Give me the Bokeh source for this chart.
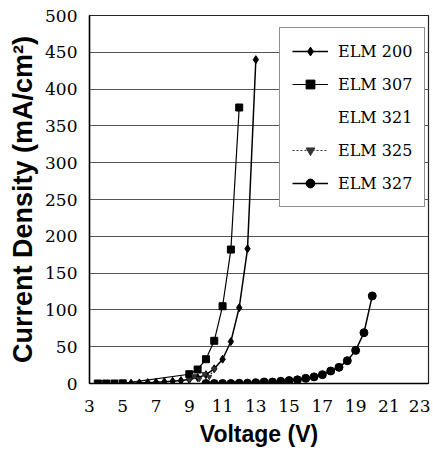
from bokeh.plotting import figure
from bokeh.models import Legend, LegendItem, FixedTicker, Range1d
from bokeh.embed import file_html
from bokeh.resources import INLINE

# ---- data ----
elm200_x = [5.5, 6, 6.5, 7, 7.5, 8, 8.5, 9, 9.5, 10, 10.5, 11, 11.5, 12, 12.5, 13]
elm200_y = [0.5, 0.8, 1.2, 1.7, 2.3, 3, 4, 5.5, 8, 12, 20, 33, 57, 103, 183, 440]

elm307_x = [3.5, 4, 4.5, 5, 9, 9.5, 10, 10.5, 11, 11.5, 12]
elm307_y = [0, 0, 0, 0.2, 12.6, 19, 33, 58, 105, 182, 375]

elm321_x = []
elm321_y = []

elm325_x = [9.0, 9.3, 9.6, 9.9, 10.2, 10.5]
elm325_y = [5, 10, 6, 13, 9, 20]

elm327_x = [10, 10.5, 11, 11.5, 12, 12.5, 13, 13.5, 14, 14.5, 15, 15.5, 16,
            16.5, 17, 17.5, 18, 18.5, 19, 19.5, 20]
elm327_y = [0, 0, 0, 0, 0.3, 0.5, 1, 2, 2, 3, 4, 5, 7,
            9, 12, 17, 22, 31, 45, 69, 119]

x_ticks = [3, 5, 7, 9, 11, 13, 15, 17, 19, 21, 23]
y_ticks = [0, 50, 100, 150, 200, 250, 300, 350, 400, 450, 500]

p = figure(width=430, height=450, output_backend="svg", toolbar_location=None,
           x_range=Range1d(3, 23.38), y_range=Range1d(0, 500),
           min_border_left=89, min_border_right=2, min_border_top=15,
           min_border_bottom=67)

p.background_fill_color = "white"
p.outline_line_color = "#222222"
p.outline_line_width = 1.2

# axes
for ax in (p.xaxis[0], p.yaxis[0]):
    ax.axis_line_color = "black"
    ax.axis_line_width = 1.5
    ax.major_tick_line_color = None
    ax.minor_tick_line_color = None
    ax.major_tick_out = 0
    ax.major_tick_in = 0
    ax.minor_tick_out = 0
    ax.minor_tick_in = 0
    ax.major_label_text_font = "DejaVu Serif"
    ax.major_label_text_font_size = "17px"
    ax.major_label_text_color = "black"
    ax.axis_label_text_font = "Liberation Sans"
    ax.axis_label_text_font_style = "bold"
    ax.axis_label_text_color = "black"

p.xaxis.axis_label_text_font_size = "23px"
p.yaxis.axis_label_text_font_size = "27px"
p.xaxis.ticker = FixedTicker(ticks=x_ticks)
p.yaxis.ticker = FixedTicker(ticks=y_ticks)
p.xaxis.major_label_standoff = 16
p.yaxis.major_label_standoff = 12
p.xaxis.axis_label_standoff = 6
p.yaxis.axis_label_standoff = 4
p.xaxis.axis_label = "Voltage (V)"
p.yaxis.axis_label = "Current Density (mA/cm²)"

p.xgrid.grid_line_color = None
p.ygrid.grid_line_color = "#555555"
p.ygrid.grid_line_width = 1
p.ygrid.ticker = FixedTicker(ticks=y_ticks)

# series
l200 = p.line(elm200_x, elm200_y, line_color="black", line_width=1.5)
m200 = p.scatter(elm200_x, elm200_y, marker="diamond", size=8, color="black")

l307 = p.line(elm307_x, elm307_y, line_color="black", line_width=1.2)
m307 = p.scatter(elm307_x, elm307_y, marker="square", size=7, color="black")

l321 = p.line(elm321_x, elm321_y, line_color="white", line_alpha=0)

l325 = p.line(elm325_x, elm325_y, line_color="#333333", line_width=1.2, line_dash="2 2")
m325 = p.scatter(elm325_x, elm325_y, marker="inverted_triangle", size=5, color="#333333")

l327 = p.line(elm327_x, elm327_y, line_color="black", line_width=1.5)
m327 = p.scatter(elm327_x, elm327_y, marker="circle", size=8, color="black")

legend = Legend(items=[
    LegendItem(label="ELM 200", renderers=[l200, m200]),
    LegendItem(label="ELM 307", renderers=[l307, m307]),
    LegendItem(label="ELM 321", renderers=[l321]),
    LegendItem(label="ELM 325", renderers=[l325, m325]),
    LegendItem(label="ELM 327", renderers=[l327, m327]),
], location=(190, 176))
legend.label_text_font = "DejaVu Serif"
legend.label_text_font_size = "16px"
legend.label_text_color = "black"
legend.glyph_width = 36
legend.glyph_height = 22
legend.label_height = 22
legend.label_standoff = 10
legend.spacing = 11
legend.padding = 12
legend.margin = 0
legend.border_line_color = "#222222"
legend.border_line_width = 1.2
legend.background_fill_color = "white"
legend.background_fill_alpha = 1
p.add_layout(legend, "center")

open("out.html", "w").write(file_html(p, INLINE))
